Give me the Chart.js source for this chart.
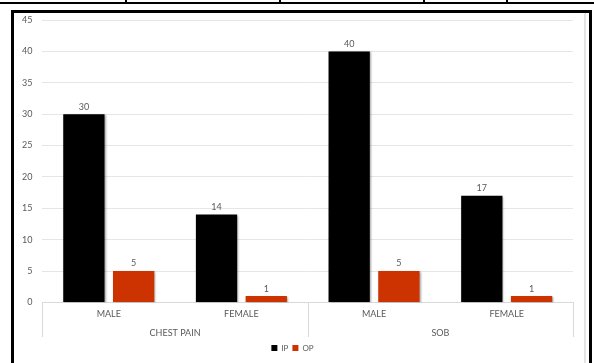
<!DOCTYPE html>
<html lang="en">
<head>
  <meta charset="UTF-8">
  <title>IP / OP by complaint and gender</title>
  <script src="https://cdn.jsdelivr.net/npm/chart.js"></script>
  <style>
    html, body {
      margin: 0;
      padding: 0;
      background: #fff;
      width: 594px;
      height: 363px;
      overflow: hidden;
    }
    #wrap {
      position: relative;
      width: 594px;
      height: 363px;
    }
    .topline {
      position: absolute;
      left: 0; top: 2px;
      width: 594px; height: 2px;
      background: #000;
    }
    .vtick {
      position: absolute;
      top: 0; width: 2px; height: 4px;
      background: #000;
    }
    .frame {
      position: absolute;
      left: 11px; top: 10px;
      width: 581px; height: 360px;
      border: 3px solid #000;
      box-sizing: border-box;
    }
    .innerline {
      position: absolute;
      left: 584px; top: 13px;
      width: 2px; height: 350px;
      background: #e4e4e4;
    }
    canvas {
      position: absolute;
      left: 0; top: 0;
    }
  </style>
</head>
<body>
<div id="wrap">
  <div class="topline"></div>
  <div class="vtick" style="left:125px"></div>
  <div class="vtick" style="left:279px"></div>
  <div class="vtick" style="left:423px"></div>
  <div class="vtick" style="left:506px"></div>
  <div class="frame"></div>
  <div class="innerline"></div>
  <canvas id="chart" width="594" height="363"></canvas>
</div>

<script>
  // data
  const genders = ['MALE', 'FEMALE', 'MALE', 'FEMALE'];
  const complaints = ['CHEST PAIN', 'SOB'];
  const ipValues = [30, 14, 40, 17];
  const opValues = [5, 1, 5, 1];

  const textGrey = '#595959';
  const lineGrey = '#d9d9d9';
  const fontFamily = 'Lato, "Open Sans", sans-serif';

  // values on top of each bar
  const valueLabels = {
    id: 'valueLabels',
    afterDatasetsDraw(chart) {
      const ctx = chart.ctx;
      ctx.save();
      ctx.font = '9px ' + fontFamily;
      ctx.fillStyle = textGrey;
      ctx.textAlign = 'center';
      ctx.textBaseline = 'bottom';
      chart.data.datasets.forEach((ds, i) => {
        chart.getDatasetMeta(i).data.forEach((bar, j) => {
          ctx.fillText(ds.data[j], bar.x, bar.y - 3);
        });
      });
      ctx.restore();
    }
  };

  // soft shadow under bars
  const barShadow = {
    id: 'barShadow',
    beforeDatasetsDraw(chart) {
      const ctx = chart.ctx;
      ctx.save();
      ctx.shadowColor = 'rgba(0,0,0,0.35)';
      ctx.shadowBlur = 2;
      ctx.shadowOffsetX = 1;
      ctx.shadowOffsetY = 1;
    },
    afterDatasetsDraw(chart) {
      chart.ctx.restore();
    }
  };

  // separators of the two-level category axis (at the outer group edges)
  const groupLines = {
    id: 'groupLines',
    afterDraw(chart) {
      const x2 = chart.scales.x2;
      const ctx = chart.ctx;
      const half = (x2.getPixelForValue(1) - x2.getPixelForValue(0)) / 2;
      const edges = [x2.getPixelForValue(0) - half];
      complaints.forEach((c, i) => edges.push(x2.getPixelForValue(i) + half));
      ctx.save();
      ctx.strokeStyle = lineGrey;
      ctx.lineWidth = 1;
      edges.forEach(px => {
        const x = Math.round(px) + 0.5;
        ctx.beginPath();
        ctx.moveTo(x, chart.chartArea.bottom);
        ctx.lineTo(x, x2.bottom - 3);
        ctx.stroke();
      });
      ctx.restore();
    }
  };

  new Chart(document.getElementById('chart'), {
    type: 'bar',
    data: {
      labels: genders,
      datasets: [
        { label: 'IP', data: ipValues, backgroundColor: '#000000' },
        { label: 'OP', data: opValues, backgroundColor: '#cc3300' }
      ]
    },
    options: {
      responsive: false,
      animation: false,
      categoryPercentage: 0.75,
      barPercentage: 0.83,
      layout: { padding: { left: 12, right: 21, top: 20, bottom: 1 } },
      plugins: {
        legend: {
          position: 'bottom',
          labels: {
            boxWidth: 6,
            boxHeight: 6,
            padding: 4,
            color: textGrey,
            font: { family: fontFamily, size: 8 }
          }
        },
        tooltip: { enabled: false }
      },
      scales: {
        y: {
          min: 0,
          max: 45,
          ticks: {
            stepSize: 5,
            color: textGrey,
            padding: 10,
            font: { family: fontFamily, size: 9 }
          },
          grid: { color: '#e6e6e6', drawTicks: false },
          border: { display: false }
        },
        x: {
          position: 'bottom',
          ticks: {
            color: textGrey,
            padding: 6,
            font: { family: fontFamily, size: 9 }
          },
          grid: { drawOnChartArea: false, drawTicks: false },
          border: { display: true, color: lineGrey }
        },
        x2: {
          type: 'category',
          position: 'bottom',
          labels: complaints,
          ticks: {
            color: textGrey,
            padding: 2,
            font: { family: fontFamily, size: 9 }
          },
          grid: { display: false, drawTicks: false },
          border: { display: false }
        }
      }
    },
    plugins: [barShadow, valueLabels, groupLines]
  });
</script>
</body>
</html>
